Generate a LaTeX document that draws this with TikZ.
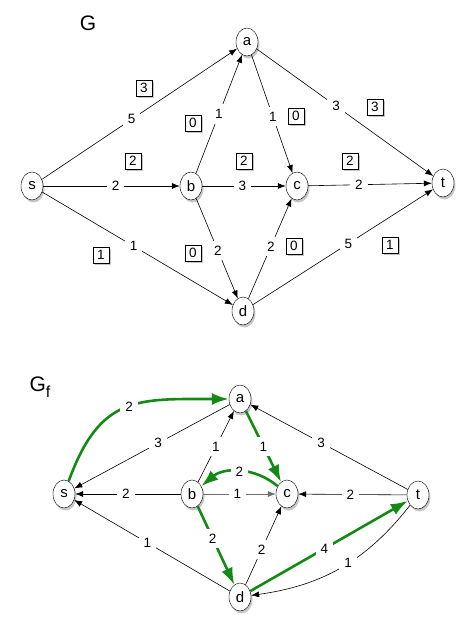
\documentclass[tikz,border=0pt]{standalone}
\usepackage{fontspec}
\setmainfont{Liberation Sans}
\usetikzlibrary{arrows.meta,positioning,shapes.geometric,shadows}
\definecolor{FlowGreen}{HTML}{138A13}
\definecolor{EdgeGray}{HTML}{707070}

\begin{document}
\begin{tikzpicture}[
  x=1pt, y=-1pt,
  vertex/.style={
    ellipse,
    draw,
    fill=white,
    minimum width=22pt,
    minimum height=28pt,
    inner sep=0pt,
    font=\fontsize{15}{15}\selectfont,
    drop shadow={shadow xshift=1.5pt, shadow yshift=-2.5pt, opacity=0.45}
  },
  weight/.style={
    fill=white,
    inner xsep=5pt,
    inner ysep=5pt,
    font=\fontsize{13.5}{13.5}\selectfont
  },
  flowbox/.style={
    draw,
    fill=white,
    minimum size=16pt,
    inner sep=0pt,
    font=\fontsize{13.5}{13.5}\selectfont,
    drop shadow={shadow xshift=1.5pt, shadow yshift=-2pt, opacity=0.45}
  },
  title/.style={
    font=\fontsize{21}{21}\selectfont
  },
  link/.style={
    -{Latex[length=8pt,width=6pt]},
    line width=0.6pt
  },
  aug/.style={
    -{Latex[length=17pt,width=12pt]},
    line width=2.6pt,
    draw=FlowGreen
  }
]
\useasboundingbox (0,0) rectangle (476,635);

% Network G
\node[title] (gname) at (88,23) {G};

\node[vertex] (s) at (32,186) {s};
\node[vertex] (a) at (247,42) {a};
\node[vertex] (b) at (191,186) {b};
\node[vertex] (c) at (297,186) {c};
\node[vertex] (d) at (243,311) {d};
\node[vertex] (t) at (443,183) {t};

\draw[link] (s) -- node[weight,pos=0.46] {5} (a);
\draw[link] (s) -- node[weight,pos=0.53] {2} (b);
\draw[link] (s) -- node[weight,pos=0.48] {1} (d);
\draw[link] (b) -- node[weight,pos=0.5] {1} (a);
\draw[link] (a) -- node[weight,pos=0.52] {1} (c);
\draw[link] (a) -- node[weight,pos=0.45] {3} (t);
\draw[link] (b) -- node[weight,pos=0.48] {3} (c);
\draw[link] (c) -- node[weight,pos=0.41] {2} (t);
\draw[link] (b) -- node[weight,pos=0.52] {2} (d);
\draw[link] (d) -- node[weight,pos=0.52] {2} (c);
\draw[link] (d) -- node[weight,pos=0.53] {5} (t);

% Flow values
\node[flowbox] (fsa) at (144,88) {3};
\node[flowbox] (fsb) at (133,161) {2};
\node[flowbox] (fsd) at (101,255) {1};
\node[flowbox] (fba) at (193,123) {0};
\node[flowbox] (fac) at (296,116) {0};
\node[flowbox] (fat) at (375,107) {3};
\node[flowbox] (fbc) at (244,161) {2};
\node[flowbox] (fct) at (350,161) {2};
\node[flowbox] (fbd) at (193,253) {0};
\node[flowbox] (fdc) at (294,246) {0};
\node[flowbox] (fdt) at (390,245) {1};

% Residual network G_f
\node[title] (gfname) at (40,387) {G\raisebox{-6pt}{\fontsize{16}{16}\selectfont f}};

\node[vertex] (rs) at (64,494) {s};
\node[vertex] (ra) at (240,399) {a};
\node[vertex] (rb) at (192,494) {b};
\node[vertex] (rc) at (287,494) {c};
\node[vertex] (rd) at (240,597) {d};
\node[vertex] (rt) at (418,495) {t};

\draw[link] (ra) -- node[weight,pos=0.46] {3} (rs);
\draw[link] (rb) -- node[weight,pos=0.5] {1} (ra);
\draw[link] (rt) -- node[weight,pos=0.55] {3} (ra);
\draw[link] (rb) -- node[weight,pos=0.52] {2} (rs);
\draw[link, draw=EdgeGray] (rb) -- node[weight,pos=0.47,text=black] {1} (rc);
\draw[link] (rt) -- node[weight,pos=0.52] {2} (rc);
\draw[link] (rd) -- node[weight,pos=0.53] {1} (rs);
\draw[link] (rd) -- node[weight,pos=0.45] {2} (rc);
\draw[link] (rt) to[out=-128,in=8] node[weight,pos=0.45] {1} (rd);

\draw[aug] (rs) to[out=70,in=180,looseness=1.3] node[weight,pos=0.52] {2} (ra);
\draw[aug] (ra) -- node[weight,pos=0.5] {1} (rc);
\draw[aug] (rc) to[bend right=40] node[weight,pos=0.5] {2} (rb);
\draw[aug] (rb) -- node[weight,pos=0.41] {2} (rd);
\draw[aug] (rd) -- node[weight,pos=0.47] {4} (rt);

\end{tikzpicture}
\end{document}
